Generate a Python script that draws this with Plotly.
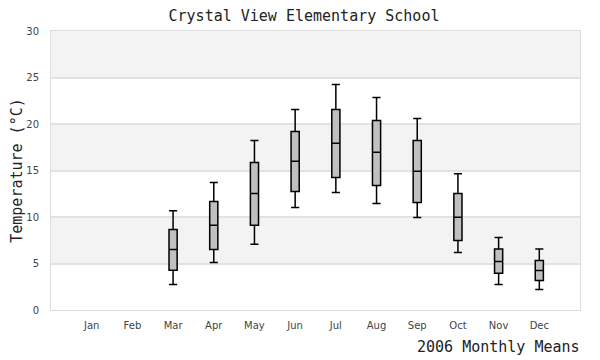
import plotly.graph_objects as go

months = ["Jan", "Feb", "Mar", "Apr", "May", "Jun", "Jul", "Aug", "Sep", "Oct", "Nov", "Dec"]
box_months = ["Mar", "Apr", "May", "Jun", "Jul", "Aug", "Sep", "Oct", "Nov", "Dec"]
lower = [2.74, 5.11, 7.08, 11.02, 12.63, 11.45, 9.95, 6.18, 2.74, 2.2]
q1 = [4.28, 6.51, 9.12, 12.74, 14.25, 13.39, 11.56, 7.47, 3.96, 3.17]
median = [6.51, 9.12, 12.53, 16.0, 17.92, 16.97, 14.92, 9.98, 5.21, 4.25]
q3 = [8.66, 11.67, 15.86, 19.19, 21.56, 20.38, 18.23, 12.53, 6.57, 5.32]
upper = [10.66, 13.71, 18.23, 21.56, 24.25, 22.85, 20.59, 14.64, 7.8, 6.57]
y_ticks = [0, 5, 10, 15, 20, 25, 30]
bands = [(5, 10), (15, 20), (25, 30)]

fig = go.Figure()
fig.add_trace(go.Box(
    x=box_months, q1=q1, median=median, q3=q3,
    lowerfence=lower, upperfence=upper,
    fillcolor="#c0c0c0", line=dict(color="black", width=1.5),
    width=0.2, whiskerwidth=1, boxpoints=False, showlegend=False,
    hoverinfo="skip",
))

for lo, hi in bands:
    fig.add_shape(type="rect", xref="paper", yref="y", x0=0, x1=1, y0=lo, y1=hi,
                  fillcolor="#f3f3f3", line=dict(width=0), layer="below")

mono = "DejaVu Sans Mono"
W, H = 592, 352  # page body has an 8px margin
fig.update_layout(
    width=W, height=H,
    margin=dict(l=43, r=20, t=23, b=50),
    paper_bgcolor="white", plot_bgcolor="white",
    title=dict(text="Crystal View Elementary School", x=0.5, xanchor="center",
               y=1 - 8 / H, yanchor="middle",
               font=dict(family=mono, size=15, color="#222")),
    xaxis=dict(type="category", categoryorder="array", categoryarray=months,
               range=[-1, 12], showgrid=False, zeroline=False, automargin=False,
               showline=True, mirror=True, linecolor="#dddddd", linewidth=1,
               ticks="outside", ticklen=6, tickcolor="rgba(0,0,0,0)",
               tickfont=dict(family="DejaVu Sans", size=10, color="#444")),
    yaxis=dict(range=[0, 30], tickvals=y_ticks, showgrid=True, gridcolor="#e2e2e2",
               gridwidth=1.5, zeroline=False, automargin=False,
               showline=True, mirror=True, linecolor="#dddddd", linewidth=1,
               ticks="outside", ticklen=9, tickcolor="rgba(0,0,0,0)",
               tickfont=dict(family="DejaVu Sans", size=10, color="#444"),
               title=dict(text="Temperature (°C)", standoff=4,
                          font=dict(family=mono, size=15, color="#222"))),
    annotations=[dict(text="2006 Monthly Means", xref="paper", yref="paper",
                      x=1.004, y=-0.1326, xanchor="right", yanchor="middle", showarrow=False,
                      font=dict(family=mono, size=15, color="#222"))],
)

fig.write_html("out.html")
